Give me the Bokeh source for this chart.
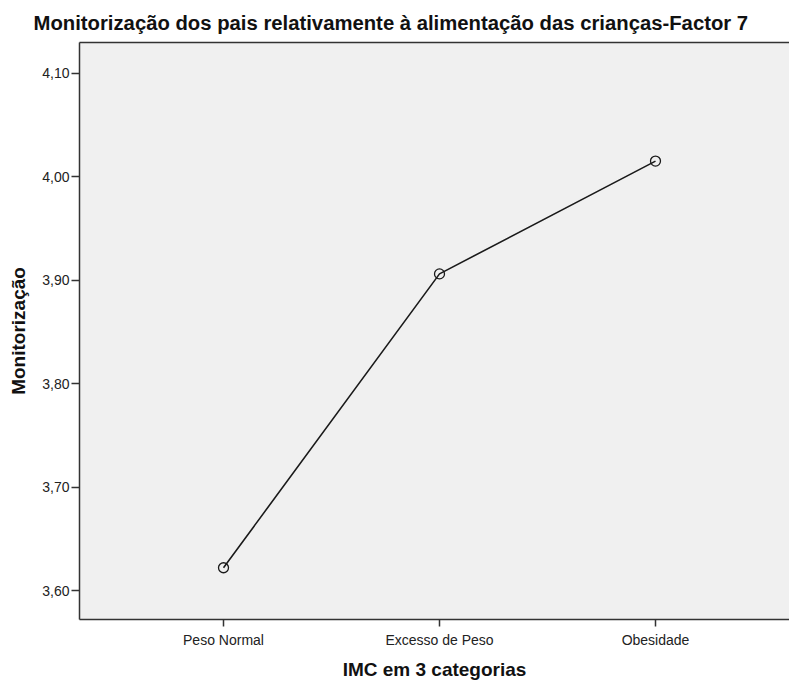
from bokeh.plotting import figure
from bokeh.models import FixedTicker, CustomJSTickFormatter, Range1d, Title, LinearAxis
from bokeh.embed import file_html
from bokeh.resources import INLINE

categories = ["Peso Normal", "Excesso de Peso", "Obesidade"]
positions = [1, 2, 3]
means = [3.622, 3.906, 4.015]
y_ticks = [3.60, 3.70, 3.80, 3.90, 4.00, 4.10]

title_text = "Monitorização dos pais relativamente à alimentação das crianças-Factor 7"
FONT = "Liberation Sans"

p = figure(width=789, height=682, output_backend="svg", toolbar_location=None,
           x_range=Range1d(0.3333, 3.6204), y_range=Range1d(3.572, 4.1296),
           min_border_left=79, min_border_right=0, min_border_bottom=62, min_border_top=42)

t = Title(text=title_text, align="left", offset=-46, text_font=FONT,
          text_font_size="20.3px", text_font_style="bold", text_color="#111111",
          standoff=18, text_line_height=1.0)
p.title = t

p.background_fill_color = "#F0F0F0"
p.border_fill_color = "white"
p.outline_line_color = None
p.xgrid.visible = False
p.ygrid.visible = False

xa = p.below[0]
ya = p.left[0]

# top frame line
top = LinearAxis(ticker=FixedTicker(ticks=[]), axis_line_color="#333333",
                 axis_line_width=1.5, major_tick_line_color=None,
                 minor_tick_line_color=None, major_label_text_font_size="0px",
                 major_label_standoff=0, major_tick_out=0, major_tick_in=0)
p.add_layout(top, "above")

p.line(positions, means, line_color="#1a1a1a", line_width=1.6)
p.scatter(positions, means, marker="circle", size=10, fill_color=None,
          line_color="#1a1a1a", line_width=1.3)

xa.ticker = FixedTicker(ticks=positions)
xa.major_label_overrides = {pos: lab for pos, lab in zip(positions, categories)}
xa.axis_label = "IMC em 3 categorias"
ya.ticker = FixedTicker(ticks=y_ticks)
ya.formatter = CustomJSTickFormatter(code="return tick.toFixed(2).replace('.', ',');")
ya.axis_label = "Monitorização"

for ax in (xa, ya):
    ax.axis_line_color = "#333333"
    ax.axis_line_width = 1.5
    ax.major_tick_line_color = "#333333"
    ax.major_tick_line_width = 1.5
    ax.major_tick_out = 8
    ax.major_tick_in = 0
    ax.minor_tick_line_color = None
    ax.major_label_text_font = FONT
    ax.major_label_text_font_size = "14px"
    ax.major_label_text_color = "#222222"
    ax.axis_label_text_font = FONT
    ax.axis_label_text_font_size = "19px"
    ax.axis_label_text_font_style = "bold"
    ax.axis_label_text_color = "#111111"

xa.major_tick_out = 7
xa.major_label_standoff = 5
xa.axis_label_standoff = 8
ya.major_label_standoff = 2
ya.axis_label_standoff = 10

open("out.html", "w").write(file_html(p, INLINE))
